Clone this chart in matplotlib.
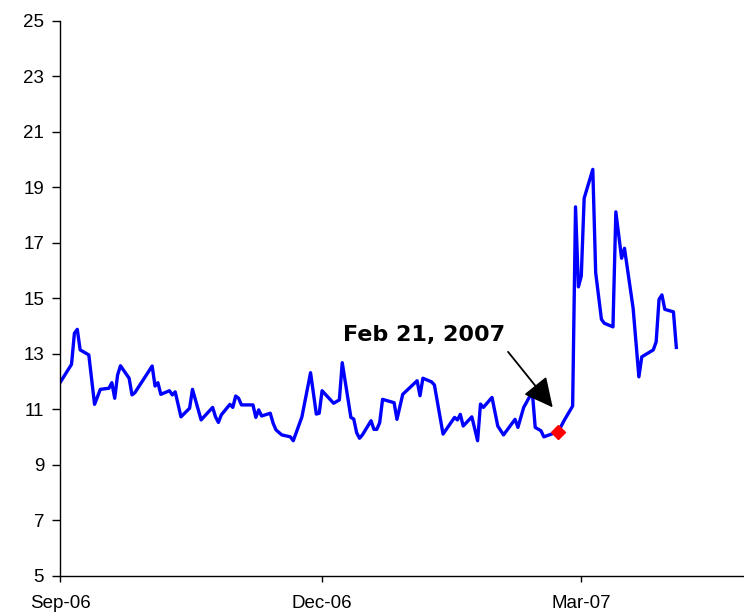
import matplotlib
matplotlib.use("Agg")
import matplotlib.pyplot as plt
import matplotlib.dates as mdates
import pandas as pd

dates = [
    "2006-09-01", "2006-09-05", "2006-09-06", "2006-09-07", "2006-09-08", "2006-09-11",
    "2006-09-13", "2006-09-15", "2006-09-18", "2006-09-19", "2006-09-20", "2006-09-21",
    "2006-09-22", "2006-09-25", "2006-09-26", "2006-09-27", "2006-10-03", "2006-10-04",
    "2006-10-05", "2006-10-06", "2006-10-09", "2006-10-10", "2006-10-11", "2006-10-13",
    "2006-10-16", "2006-10-17", "2006-10-20", "2006-10-24", "2006-10-25", "2006-10-26",
    "2006-10-27", "2006-10-30", "2006-10-31", "2006-11-01", "2006-11-02", "2006-11-03",
    "2006-11-06", "2006-11-07", "2006-11-08", "2006-11-09", "2006-11-10", "2006-11-13",
    "2006-11-14", "2006-11-15", "2006-11-17", "2006-11-20", "2006-11-21", "2006-11-24",
    "2006-11-27", "2006-11-29", "2006-11-30", "2006-12-01", "2006-12-05", "2006-12-07",
    "2006-12-08", "2006-12-11", "2006-12-12", "2006-12-13", "2006-12-14", "2006-12-15",
    "2006-12-18", "2006-12-19", "2006-12-20", "2006-12-21", "2006-12-22", "2006-12-26",
    "2006-12-27", "2006-12-29", "2007-01-03", "2007-01-04", "2007-01-05", "2007-01-08",
    "2007-01-09", "2007-01-12", "2007-01-16", "2007-01-17", "2007-01-18", "2007-01-19",
    "2007-01-22", "2007-01-24", "2007-01-25", "2007-01-26", "2007-01-29", "2007-01-31",
    "2007-02-02", "2007-02-06", "2007-02-07", "2007-02-09", "2007-02-12", "2007-02-13",
    "2007-02-15", "2007-02-16", "2007-02-20", "2007-02-21", "2007-02-23", "2007-02-26",
    "2007-02-27", "2007-02-28", "2007-03-01", "2007-03-02", "2007-03-05", "2007-03-06",
    "2007-03-08", "2007-03-09", "2007-03-12", "2007-03-13", "2007-03-15", "2007-03-16",
    "2007-03-19", "2007-03-21", "2007-03-22", "2007-03-26", "2007-03-27", "2007-03-28",
    "2007-03-29", "2007-03-30", "2007-04-02", "2007-04-03",
]
values = [
    11.96, 12.62, 13.74, 13.88, 13.14, 12.96,
    11.18, 11.72, 11.76, 11.96, 11.40, 12.24,
    12.57, 12.12, 11.52, 11.60, 12.56, 11.84,
    11.96, 11.54, 11.67, 11.52, 11.63, 10.73,
    11.04, 11.72, 10.62, 11.07, 10.73, 10.53,
    10.80, 11.18, 11.07, 11.48, 11.40, 11.16,
    11.16, 11.16, 10.71, 10.98, 10.76, 10.86,
    10.50, 10.26, 10.08, 10.01, 9.87, 10.73,
    12.32, 10.83, 10.86, 11.67, 11.22, 11.34,
    12.68, 10.71, 10.65, 10.16, 9.96, 10.08,
    10.59, 10.28, 10.28, 10.52, 11.36, 11.24,
    10.64, 11.54, 12.03, 11.49, 12.12, 11.99,
    11.88, 10.11, 10.71, 10.62, 10.82, 10.40,
    10.73, 9.87, 11.19, 11.07, 11.43, 10.40,
    10.08, 10.64, 10.35, 11.07, 11.63, 10.35,
    10.23, 10.01, 10.16, 10.19, 10.59, 11.12,
    18.29, 15.41, 15.80, 18.60, 19.64, 15.92,
    14.24, 14.10, 13.97, 18.11, 16.44, 16.80,
    14.64, 12.17, 12.89, 13.14, 13.43, 14.96,
    15.12, 14.60, 14.51, 13.23,
]

highlight_date = "2007-02-21"
highlight_value = 10.19
annotation_text = "Feb 21, 2007"

x_ticks = ["2006-09-01", "2006-12-01", "2007-03-01"]
y_ticks = [5, 7, 9, 11, 13, 15, 17, 19, 21, 23, 25]

dt = pd.to_datetime(dates)

fig = plt.figure(figsize=(7.44, 6.15), dpi=100)
ax = fig.add_axes([60 / 744, 39 / 615, 684 / 744, 555.5 / 615])

ax.plot(dt, values, color="#0000ff", lw=2.4, solid_joinstyle="round")
ax.plot(pd.to_datetime([highlight_date]), [highlight_value], marker="D",
        color="#ff0000", markersize=7.5, linestyle="none", zorder=5)

ax.set_ylim(5, 25)
ax.set_yticks(y_ticks)
start = pd.Timestamp("2006-09-01")
ax.set_xlim(start, start + pd.Timedelta(days=237.5))
ax.set_xticks(pd.to_datetime(x_ticks))
ax.xaxis.set_major_formatter(mdates.DateFormatter("%b-%y"))

for s in ["top", "right"]:
    ax.spines[s].set_visible(False)
for s in ["left", "bottom"]:
    ax.spines[s].set_linewidth(1.0)
    ax.spines[s].set_color("black")

ax.tick_params(axis="y", direction="out", length=5.5, width=1, pad=6,
               labelsize=13.5, labelfontfamily="Liberation Sans")
ax.tick_params(axis="x", direction="out", length=4.5, width=1, pad=9,
               labelsize=13.5, labelfontfamily="Liberation Sans")

ax.annotate("", xy=(pd.Timestamp("2007-02-19 02:00"), 11.07),
            xytext=(pd.Timestamp("2007-02-03 14:00"), 13.07),
            arrowprops=dict(arrowstyle="-|>,head_length=0.9,head_width=0.45",
                            color="black", lw=1.3, mutation_scale=20,
                            shrinkA=0, shrinkB=0))
ax.text(pd.Timestamp("2006-12-08 08:00"), 13.46, annotation_text,
        fontsize=16, family="DejaVu Sans", weight="bold", ha="left",
        va="baseline", color="black")

fig.savefig("out.png", dpi=100)
